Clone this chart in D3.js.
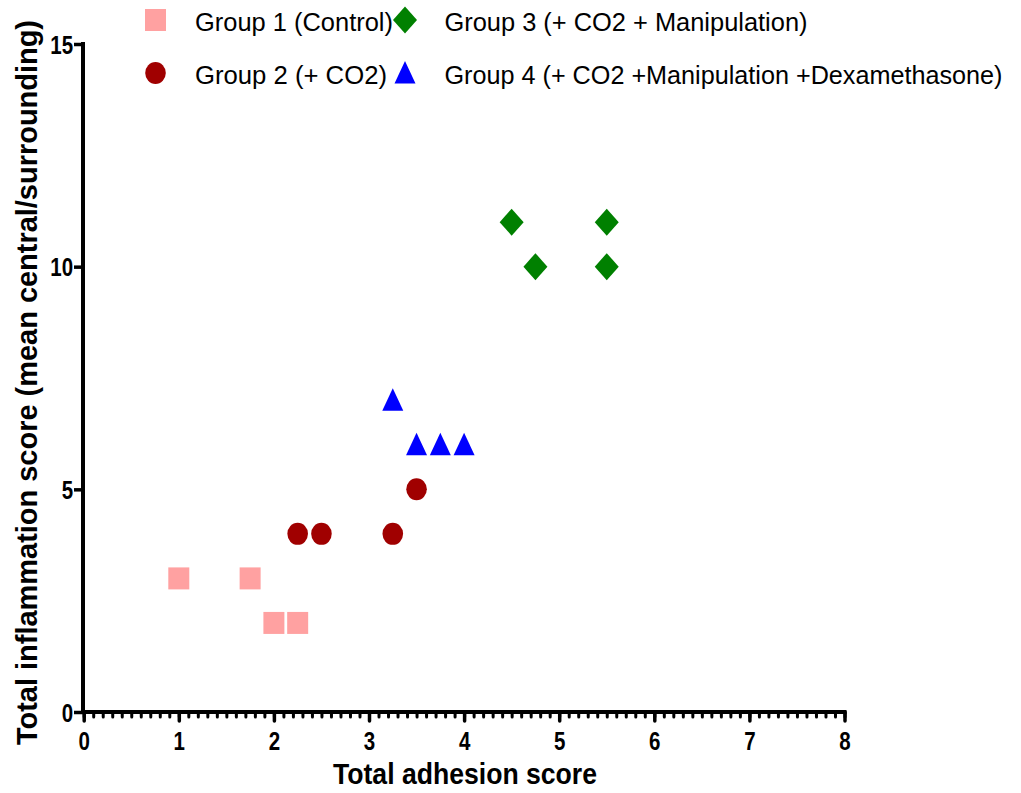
<!DOCTYPE html>
<html>
<head>
<meta charset="utf-8">
<script src="https://cdn.jsdelivr.net/npm/d3@7"></script>
<style>
  body { margin: 0; background: #fff; }
  svg { display: block; }
</style>
</head>
<body>
<svg width="1021" height="793"></svg>
<script>
// data
var group1X = [1, 1.75, 2, 2.25];
var group1Y = [3, 3, 2, 2];
var group2X = [2.25, 2.5, 3.25, 3.5];
var group2Y = [4, 4, 4, 5];
var group3X = [4.5, 4.75, 5.5, 5.5];
var group3Y = [11, 10, 11, 10];
var group4X = [3.25, 3.5, 3.75, 4];
var group4Y = [7, 6, 6, 6];
var groupNames = ["Group 1 (Control)", "Group 2 (+ CO2)", "Group 3 (+ CO2 + Manipulation)", "Group 4 (+ CO2 +Manipulation +Dexamethasone)"];
var xTicks = [0, 1, 2, 3, 4, 5, 6, 7, 8];
var yTicks = [0, 5, 10, 15];

var svg = d3.select("svg");
var font = "'Liberation Sans', Arial, sans-serif";

var x = d3.scaleLinear().domain([0, 8]).range([83.7, 844.5]);
var y = d3.scaleLinear().domain([0, 15]).range([712, 44]);

// marker outlines centred on 0,0
function shapePath(kind) {
    if (kind == "square") return "M-10.5,-11H10.5V11H-10.5Z";
    if (kind == "circle") return "M-10.3,0A10.3,11 0 1,0 10.3,0A10.3,11 0 1,0 -10.3,0Z";
    if (kind == "diamond") return "M0,-13.5L12,0L0,13.5L-12,0Z";
    return "M0,-12L10.5,10.5L-10.5,10.5Z";
}

var groups = [
    {name: groupNames[0], xs: group1X, ys: group1Y, color: "#ffa1a1", kind: "square"},
    {name: groupNames[1], xs: group2X, ys: group2Y, color: "#a00000", kind: "circle"},
    {name: groupNames[2], xs: group3X, ys: group3Y, color: "#008000", kind: "diamond"},
    {name: groupNames[3], xs: group4X, ys: group4Y, color: "#0000ff", kind: "triangle"}
];

// minor ticks on x every 0.1
var xAxisMinor = d3.axisBottom(x).tickValues(d3.range(0, 81).map(function (d) { return d / 10; }))
    .tickSize(5).tickFormat("");
svg.append("g").attr("transform", "translate(0,712)").call(xAxisMinor)
    .call(function (g) { g.select(".domain").remove(); })
    .selectAll("line").attr("stroke", "#000").attr("stroke-width", 3).attr("stroke-linecap", "round");

var xAxis = d3.axisBottom(x).tickValues(xTicks).tickSize(9).tickFormat(d3.format("d"));
var gx = svg.append("g").attr("transform", "translate(0,712)").call(xAxis);
gx.select(".domain").remove();
gx.selectAll("line").attr("stroke", "#000").attr("stroke-width", 3.5).attr("stroke-linecap", "round");
gx.selectAll("text").attr("y", 38.5).attr("dy", null)
    .attr("transform", "scale(0.82,1)")
    .attr("font-family", font).attr("font-weight", "bold")
    .attr("font-size", 25).attr("fill", "#000");

var yAxis = d3.axisLeft(y).tickValues(yTicks).tickSize(9).tickFormat(d3.format("d"));
var gy = svg.append("g").attr("transform", "translate(83,0)").call(yAxis);
gy.select(".domain").remove();
gy.selectAll("line").attr("stroke", "#000").attr("stroke-width", 3.5);
gy.selectAll("text").attr("x", -12).attr("dy", "0.36em")
    .attr("transform", "scale(0.82,1)")
    .attr("font-family", font).attr("font-weight", "bold")
    .attr("font-size", 25).attr("fill", "#000");

// axis lines
svg.append("line").attr("x1", 83).attr("x2", 83).attr("y1", y(15) - 2).attr("y2", 714)
    .attr("stroke", "#000").attr("stroke-width", 4);
svg.append("line").attr("x1", 81).attr("x2", x(8) + 2).attr("y1", 712).attr("y2", 712)
    .attr("stroke", "#000").attr("stroke-width", 4);

// axis titles
svg.append("text").attr("x", 333).attr("y", 784)
    .attr("textLength", 264).attr("lengthAdjust", "spacingAndGlyphs")
    .attr("font-family", font).attr("font-weight", "bold").attr("font-size", 30)
    .text("Total adhesion score");
svg.append("text").attr("transform", "translate(37,745) rotate(-90)")
    .attr("textLength", 725).attr("lengthAdjust", "spacingAndGlyphs")
    .attr("font-family", font).attr("font-weight", "bold").attr("font-size", 29)
    .text("Total inflammation score (mean central/surrounding)");

// points
groups.forEach(function (grp) {
    svg.append("g").selectAll("path")
        .data(grp.xs.map(function (d, i) { return [d, grp.ys[i]]; }))
        .enter().append("path")
        .attr("d", shapePath(grp.kind))
        .attr("transform", function (d) { return "translate(" + x(d[0]) + "," + y(d[1]) + ")"; })
        .attr("fill", grp.color);
});

// legend, two columns
var legendPos = [[155.5, 20], [155.5, 73], [405, 20], [405, 73]];
var legendLen = [198, 192, 363, 558];
groups.forEach(function (grp, i) {
    var p = legendPos[i];
    svg.append("path").attr("d", shapePath(grp.kind))
        .attr("transform", "translate(" + p[0] + "," + p[1] + ")").attr("fill", grp.color);
    svg.append("text").attr("x", p[0] + 39.5).attr("y", p[1] + 11)
        .attr("textLength", legendLen[i]).attr("lengthAdjust", "spacingAndGlyphs")
        .attr("font-family", font).attr("font-size", 25).attr("fill", "#000")
        .text(grp.name);
});
</script>
</body>
</html>
